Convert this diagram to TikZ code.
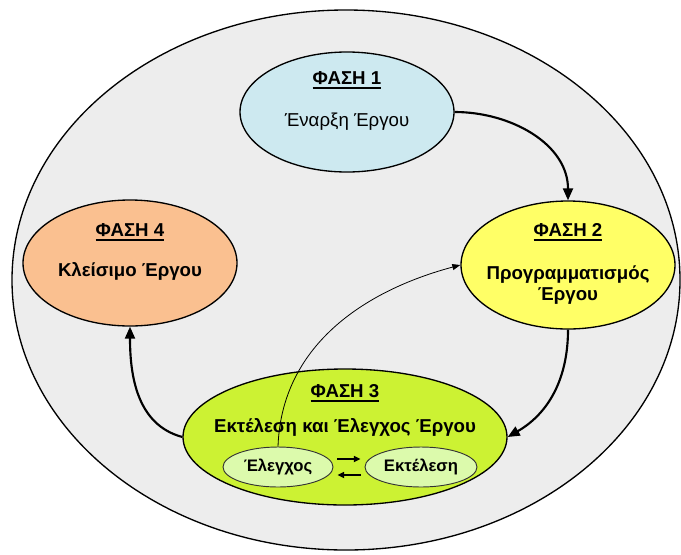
\documentclass[tikz,border=0pt]{standalone}
\usepackage{fontspec}
\setmainfont{Liberation Sans}
\newcommand{\phaseul}[1]{\setbox0\hbox{#1}\leavevmode\rlap{\raisebox{-3.2pt}{\rule{\wd0}{1.1pt}}}\box0}
\usetikzlibrary{shapes.geometric,arrows.meta}
\definecolor{outerfill}{RGB}{237,237,237}
\definecolor{startfill}{RGB}{205,233,240}
\definecolor{planfill}{RGB}{255,255,102}
\definecolor{execfill}{RGB}{204,242,51}
\definecolor{subfill}{RGB}{220,250,172}
\definecolor{closefill}{RGB}{250,192,144}

\begin{document}
\begin{tikzpicture}[x=0.75pt,y=-0.75pt,
  phase/.style={draw,ellipse,line width=1pt,inner sep=0pt},
  subphase/.style={draw=black!80,ellipse,line width=0.7pt,fill=subfill,minimum width=82.5pt,minimum height=30pt,inner sep=0pt,font=\fontsize{12.5}{14}\selectfont\bfseries},
  title/.style={font=\fontsize{14}{16}\selectfont\bfseries},
  body/.style={font=\fontsize{14}{15.5}\selectfont\bfseries,align=center},
  flow/.style={-{Triangle[length=9pt,width=7.5pt]},line width=1.6pt},
  link/.style={-{Triangle[length=6pt,width=4.5pt]},line width=0.6pt},
  swap/.style={-{Triangle[length=5pt,width=4.5pt]},line width=1.2pt}]
\useasboundingbox (0,0) rectangle (681,554);
\draw[line width=1pt,fill=outerfill] (346,280) ellipse [x radius=250.5pt,y radius=202.5pt];
\node[phase,fill=startfill,minimum width=160.5pt,minimum height=90pt] (p1) at (347,112) {};
\node[phase,fill=planfill,minimum width=160.5pt,minimum height=96pt] (p2) at (568,265) {};
\node[phase,fill=closefill,minimum width=160.5pt,minimum height=94.5pt] (p4) at (130,263) {};
\node[phase,fill=execfill,minimum width=243pt,minimum height=102pt] (p3) at (345,437) {};
\node[subphase] (el) at (278,467) {Έλεγχος};
\node[subphase,minimum width=84pt] (ek) at (421,467) {Εκτέλεση};
\node[title] (t1) at (347,80) {\phaseul{ΦΑΣΗ 1}};
\node[body,font=\fontsize{14}{15.5}\selectfont] (b1) at (347,122) {Έναρξη Έργου};
\node[title] (t2) at (568,232) {\phaseul{ΦΑΣΗ 2}};
\node[body] (b2) at (568,285) {Προγραμματισμός\\Έργου};
\node[title] (t4) at (130,232) {\phaseul{ΦΑΣΗ 4}};
\node[body] (b4) at (130,271) {Κλείσιμο Έργου};
\node[title] (t3) at (345,393) {\phaseul{ΦΑΣΗ 3}};
\node[body] (b3) at (345,427) {Εκτέλεση και Έλεγχος Έργου};
\draw[flow] (p1.east) to[out=0,in=90] (p2.north);
\draw[flow] (p2.south) to[out=-90,in=30] (p3.east);
\draw[flow] (p3.west) to[out=165,in=-90] (p4.south);
\draw[link] (el.north) to[out=88,in=195] (p2.west);
\draw[swap] ([shift={(4,-8)}]el.east) -- ([shift={(-4,-8)}]ek.west);
\draw[swap] ([shift={(-4,8)}]ek.west) -- ([shift={(4,8)}]el.east);
\end{tikzpicture}
\end{document}
